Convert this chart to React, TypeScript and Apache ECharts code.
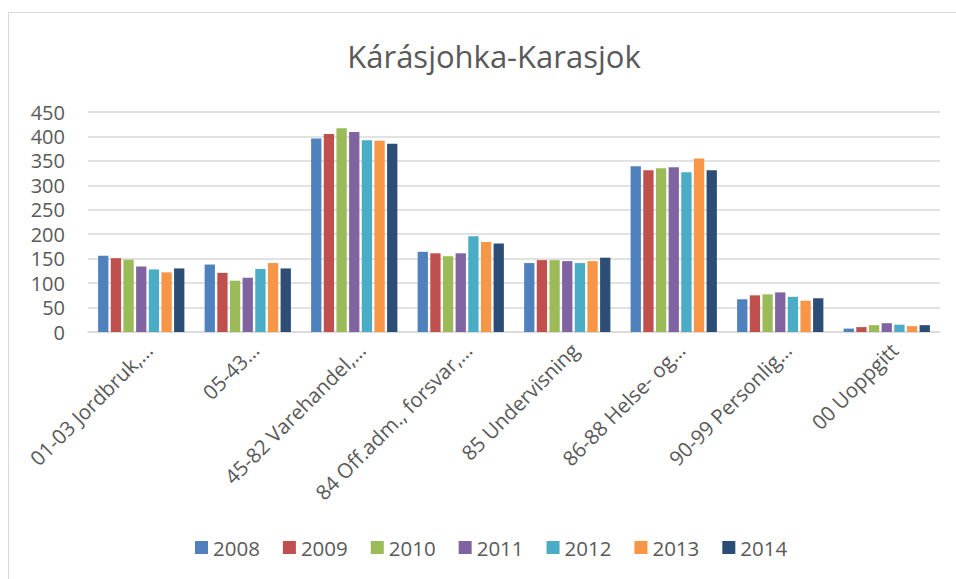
import React, { useEffect, useRef } from "react";
import * as echarts from "echarts";

const categories = [
  "01-03 Jordbruk,…",
  "05-43…",
  "45-82 Varehandel,…",
  "84 Off.adm., forsvar,…",
  "85 Undervisning",
  "86-88 Helse- og…",
  "90-99 Personlig…",
  "00 Uoppgitt",
];
const years = ["2008", "2009", "2010", "2011", "2012", "2013", "2014"];
const colors = ["#4F81BD", "#C0504D", "#9BBB59", "#8064A2", "#4BACC6", "#F79646", "#2C4D75"];
const v2008 = [156, 138, 396, 164, 141, 339, 67, 7];
const v2009 = [151, 121, 405, 161, 147, 331, 75, 10];
const v2010 = [148, 105, 417, 155, 147, 335, 77, 14];
const v2011 = [134, 111, 409, 161, 145, 337, 81, 18];
const v2012 = [128, 129, 392, 196, 141, 327, 72, 15];
const v2013 = [122, 141, 391, 184, 145, 355, 64, 12];
const v2014 = [130, 130, 385, 181, 152, 331, 69, 14];
const seriesValues = [v2008, v2009, v2010, v2011, v2012, v2013, v2014];

const FONT = "'Open Sans', sans-serif";
const TXT = "#595959";

export default function App() {
  const ref = useRef<HTMLDivElement>(null);
  useEffect(() => {
    if (!ref.current) return;
    const chart = echarts.init(ref.current, null, { renderer: "svg" });
    chart.setOption({
      animation: false,
      color: colors,
      textStyle: { fontFamily: FONT },
      title: {
        text: "Kárásjohka-Karasjok",
        left: 489,
        top: 35,
        textAlign: "center",
        textStyle: { fontFamily: FONT, fontSize: 31, fontWeight: "normal", color: TXT },
      },
      graphic: [
        {
          type: "rect",
          shape: { x: 8.5, y: 12.5, width: 1000, height: 1000 },
          style: { fill: "none", stroke: "#d9d9d9", lineWidth: 1 },
          silent: true,
        },
      ],
      legend: {
        data: years,
        bottom: 16,
        left: 190,
        itemWidth: 13,
        itemHeight: 13,
        itemGap: 23,
        icon: "rect",
        textStyle: { fontFamily: FONT, fontSize: 20.5, color: TXT },
      },
      grid: { left: 88, right: 16, top: 112, bottom: 247, containLabel: false },
      xAxis: {
        type: "category",
        data: categories,
        axisTick: { show: false },
        axisLine: { lineStyle: { color: "#d9d9d9", width: 1.5 } },
        axisLabel: {
          rotate: 45,
          interval: 0,
          margin: 7,
          verticalAlign: "top",
          fontFamily: FONT,
          fontSize: 20.5,
          color: TXT,
        },
      },
      yAxis: {
        type: "value",
        min: 0,
        max: 450,
        interval: 50,
        axisLine: { show: false },
        axisTick: { show: false },
        splitLine: { lineStyle: { color: "#d9d9d9", width: 1.5 } },
        axisLabel: { fontFamily: FONT, fontSize: 20, color: TXT, margin: 23 },
      },
      series: years.map((y, i) => ({
        name: y,
        type: "bar",
        data: seriesValues[i],
        barGap: "23%",
        barCategoryGap: "19%",
        itemStyle: { color: colors[i] },
      })),
    });
    return () => chart.dispose();
  }, []);
  return (
    <div
      ref={ref}
      style={{ position: "absolute", left: 0, top: 0, width: 956, height: 579, background: "#fff" }}
    />
  );
}
